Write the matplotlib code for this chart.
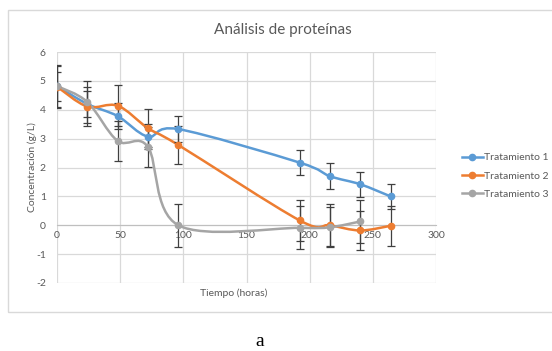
# plot.py
# Protein analysis chart: three treatments, smoothed lines with error bars.

import numpy as np
import matplotlib
matplotlib.use('Agg')
import matplotlib.pyplot as plt
from matplotlib.path import Path
from matplotlib.patches import PathPatch, Rectangle
from matplotlib.lines import Line2D

# data
tiempo = [0, 24, 48, 72, 96, 192, 216, 240, 264]
trat1 = [4.82, 4.20, 3.78, 3.07, 3.33, 2.17, 1.70, 1.42, 1.00]
trat2 = [4.80, 4.11, 4.14, 3.36, 2.78, 0.17, 0.00, -0.18, -0.02]
trat3 = [4.82, 4.27, 2.92, 2.71, 0.00, -0.09, -0.07, 0.13]
err1 = [0.50, 0.45, 0.45, 0.43, 0.44, 0.44, 0.44, 0.43, 0.44]
err2 = [0.73, 0.68, 0.70, 0.66, 0.65, 0.70, 0.73, 0.69, 0.70]
err3 = [0.72, 0.72, 0.70, 0.70, 0.75, 0.74, 0.70, 0.74]
series_names = ['Tratamiento 1', 'Tratamiento 2', 'Tratamiento 3']
colors = ['#5B9BD5', '#ED7D31', '#A5A5A5']

text_color = '#595959'
grid_color = '#D9D9D9'
font = 'Lato'
plt.rcParams['axes.unicode_minus'] = False


def smooth_path(x, y):
    # catmull-rom style bezier, like the "smoothed line" option in a spreadsheet
    pts = np.column_stack([x, y]).astype(float)
    n = len(pts)
    verts = [pts[0]]
    codes = [Path.MOVETO]
    for i in range(n - 1):
        p_prev = pts[i - 1] if i > 0 else pts[i]
        p_next = pts[i + 2] if i + 2 < n else pts[i + 1]
        c1 = pts[i] + (pts[i + 1] - p_prev) / 6.0
        c2 = pts[i + 1] - (p_next - pts[i]) / 6.0
        verts += [c1, c2, pts[i + 1]]
        codes += [Path.CURVE4] * 3
    return Path(verts, codes)


fig = plt.figure(figsize=(5.52, 3.51), dpi=100)
ax = fig.add_axes([57 / 552, 1 - 283 / 351, (436 - 57) / 552, (283 - 52) / 351])

# chart border
fig.patches.append(Rectangle((8 / 552, 1 - 312 / 351), 1, (312 - 10) / 351,
                             transform=fig.transFigure, fill=False,
                             edgecolor=grid_color, linewidth=1.0))

all_y = [trat1, trat2, trat3]
all_err = [err1, err2, err3]
handles = []
for yv, ev, c, name in zip(all_y, all_err, colors, series_names):
    xv = tiempo[:len(yv)]
    ax.add_patch(PathPatch(smooth_path(xv, yv), facecolor='none', edgecolor=c,
                           linewidth=1.8, zorder=3))
    ax.errorbar(xv, yv, yerr=ev, fmt='none', ecolor='#404040', elinewidth=0.9,
                capsize=3, capthick=0.9, zorder=4)
    ax.plot(xv, yv, linestyle='none', marker='o', markersize=4.5, color=c, zorder=5)
    handles.append(Line2D([0], [0], color=c, linewidth=1.8, marker='o', markersize=4.5))

ax.set_xlim(0, 300)
ax.set_ylim(-2, 6)
ax.set_xticks(range(0, 301, 50))
ax.set_yticks(range(-2, 7))
ax.grid(True, color=grid_color, linewidth=0.9)
ax.set_axisbelow(True)

for s in ['top', 'right', 'left']:
    ax.spines[s].set_visible(False)
ax.spines['bottom'].set_position(('data', 0))
ax.spines['bottom'].set_color('#BFBFBF')
ax.spines['bottom'].set_zorder(2)
ax.tick_params(length=0, labelsize=7.5, labelcolor=text_color)
ax.tick_params(axis='x', pad=4)
ax.tick_params(axis='y', pad=8)
for lab in ax.get_xticklabels() + ax.get_yticklabels():
    lab.set_fontfamily(font)

fig.text(283 / 552, 1 - 30 / 351, 'Análisis de proteínas', ha='center', va='center',
         fontsize=11, color=text_color, fontfamily=font)
fig.text(234 / 552, 1 - 293 / 351, 'Tiempo (horas)', ha='center', va='center',
         fontsize=7.5, color=text_color, fontfamily=font)
fig.text(32 / 552, 1 - 167 / 351, 'Concentración (g/L)', ha='center', va='center',
         rotation=90, fontsize=7.5, color=text_color, fontfamily=font)

leg = fig.legend(handles, series_names, loc='center left',
                 bbox_to_anchor=(462 / 552, 1 - 176 / 351), frameon=False,
                 borderpad=0, borderaxespad=0,
                 handlelength=2.0, handletextpad=0.15, labelspacing=0.85,
                 prop={'family': font, 'size': 7.5})
for t in leg.get_texts():
    t.set_color(text_color)

fig.text(260 / 552, 1 - 341 / 351, 'a', ha='center', va='center',
         fontsize=14, fontfamily='Liberation Serif', color='black')

fig.savefig('out.png', dpi=100)
